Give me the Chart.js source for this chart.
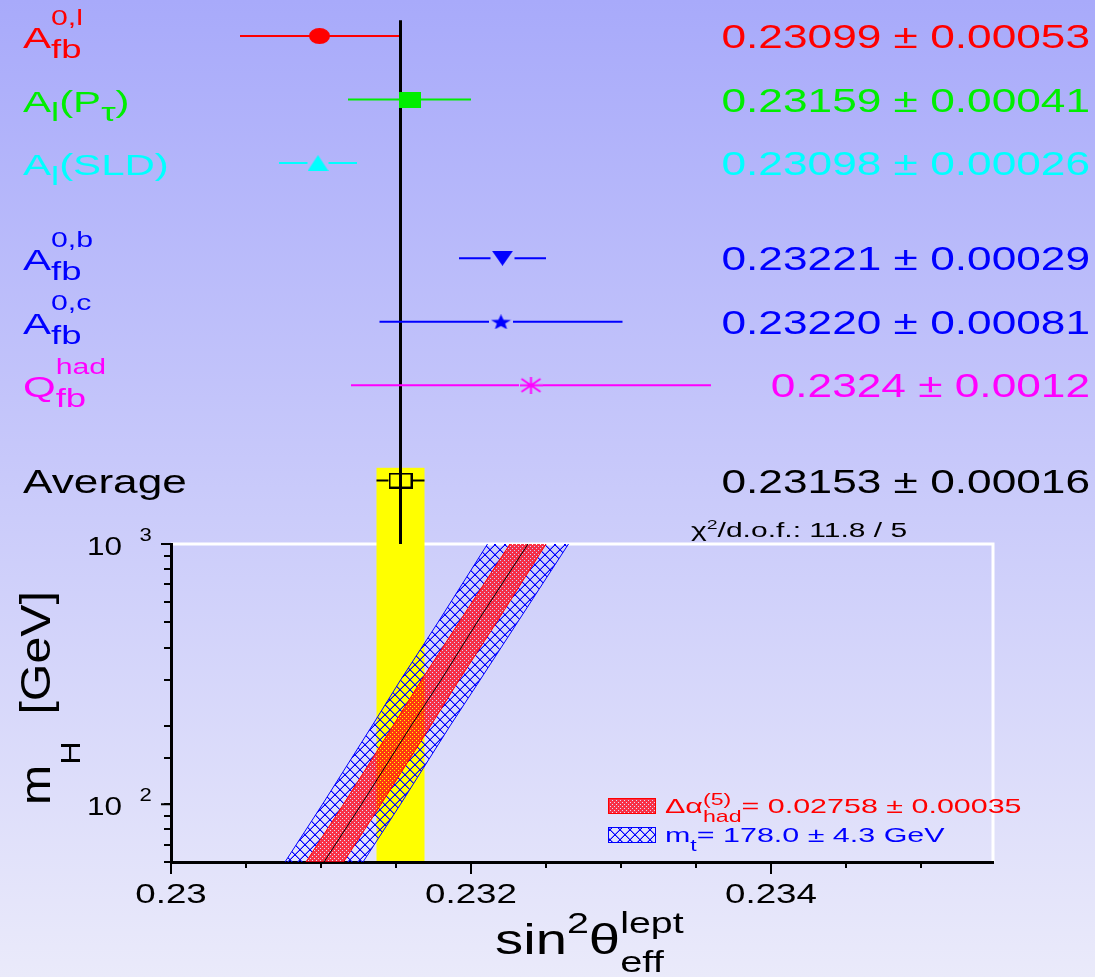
<!DOCTYPE html>
<html>
<head>
<meta charset="utf-8">
<script src="https://cdn.jsdelivr.net/npm/chart.js@4.4.1/dist/chart.umd.min.js"></script>
<style>
  html, body { margin: 0; padding: 0; }
  #wrap { width: 1095px; height: 977px; position: relative; }
</style>
</head>
<body>
<div id="wrap"><canvas id="chart"></canvas></div>
<script>
// sin2theta_eff measurements (upper part)
const measLabels = ['A_{fb}^{0,l}', 'A_{l}(P_{τ})', 'A_{l}(SLD)', 'A_{fb}^{0,b}', 'A_{fb}^{0,c}', 'Q_{fb}^{had}', 'Average'];
const measValues = [0.23099, 0.23159, 0.23098, 0.23221, 0.23220, 0.2324, 0.23153];
const measErrors = [0.00053, 0.00041, 0.00026, 0.00029, 0.00081, 0.0012, 0.00016];
const measDigits = [5, 5, 5, 5, 5, 4, 5];
const measRows = [0, 1, 2, 3.5, 4.5, 5.5, 7];
const chi2Text = 'χ^{2}/d.o.f.: 11.8 / 5';

// SM prediction vs Higgs mass (lower part)
const higgsMass = [60, 100, 200, 300, 500, 1000];
const bandCentre = [0.23102, 0.23127, 0.23160, 0.23180, 0.23204, 0.23238];
const alphaLow = [0.23090, 0.23115, 0.23148, 0.23167, 0.23192, 0.23226];
const alphaHigh = [0.23115, 0.23140, 0.23173, 0.23192, 0.23217, 0.23250];
const mtopLow = [0.23076, 0.23101, 0.23134, 0.23153, 0.23178, 0.23211];
const mtopHigh = [0.23128, 0.23153, 0.23186, 0.23206, 0.23231, 0.23265];
const legendLabels = ['Δα_{had}^{(5)}= 0.02758 ± 0.00035', 'm_{t}= 178.0 ± 4.3 GeV'];

// axes
const xTicks = [0.230, 0.232, 0.234];
const xTickLabels = ['0.23', '0.232', '0.234'];
const yTicks = [100, 1000];
const yTickLabels = ['10  ^{2}', '10  ^{3}'];

const FONT = '"Liberation Sans", Arial, sans-serif';
const AVG = measLabels.length - 1;
const measColors = ['#ff0000', '#00ee00', '#00ffff', '#0000ff', '#0000ff', '#ff00ff', '#000000'];
const measGaps = [0, 0, 0.00007, 0.00008, 0.00008, 0.00008, 0.00008];

function parseTex(s) {
  const out = [];
  let buf = '';
  for (let i = 0; i < s.length; i++) {
    const c = s[i];
    if ((c === '_' || c === '^') && s[i + 1] === '{') {
      if (buf) { out.push({t: buf, k: 'n'}); buf = ''; }
      const j = s.indexOf('}', i);
      out.push({t: s.slice(i + 2, j), k: c === '_' ? 'b' : 'p'});
      i = j;
    } else {
      buf += c;
    }
  }
  if (buf) out.push({t: buf, k: 'n'});
  return out;
}

function drawTex(ctx, s, x, y, o) {
  const sub = o.sub || [0.8, 0.3], sup = o.sup || [0.7, -0.5];
  const items = [];
  let cx = 0, prevStart = 0, prevW = 0, prevK = 'n';
  for (const p of parseTex(s)) {
    const spec = p.k === 'b' ? sub : p.k === 'p' ? sup : [1, 0];
    const size = o.size * spec[0];
    ctx.font = size + 'px ' + FONT;
    const w = ctx.measureText(p.t).width * o.sx;
    let x0 = cx;
    if (p.k !== 'n' && prevK !== 'n' && prevK !== p.k) {
      x0 = prevStart;
      cx = prevStart + Math.max(prevW, w);
    } else {
      cx = x0 + w;
    }
    items.push({t: p.t, x: x0, dy: spec[1] * o.size, size});
    prevStart = x0; prevW = w; prevK = p.k;
  }
  let left = x;
  if (o.align === 'right') left = x - cx;
  if (o.align === 'center') left = x - cx / 2;
  ctx.fillStyle = o.color;
  ctx.textAlign = 'left';
  ctx.textBaseline = 'alphabetic';
  for (const it of items) {
    ctx.save();
    ctx.font = it.size + 'px ' + FONT;
    ctx.translate(left + it.x, y + it.dy);
    ctx.scale(o.sx, 1);
    ctx.fillText(it.t, 0, 0);
    ctx.restore();
  }
}

// crisp cross-hatch, diamonds of 10 x 10 px
function hatchPattern(color, soft) {
  const c = document.createElement('canvas');
  c.width = 10; c.height = 10;
  const g = c.getContext('2d');
  for (let i = 0; i < 10; i++) {
    g.fillStyle = soft;
    g.fillRect((i + 1) % 10, i, 1, 1);
    g.fillRect((18 - i) % 10, i, 1, 1);
    g.fillStyle = color;
    g.fillRect(i, i, 1, 1);
    g.fillRect(9 - i, i, 1, 1);
  }
  return g.createPattern(c, 'repeat');
}

// dense red fill with small light dots
function densePattern(color) {
  const c = document.createElement('canvas');
  c.width = 4; c.height = 4;
  const g = c.getContext('2d');
  g.fillStyle = color;
  g.fillRect(0, 0, 4, 4);
  g.clearRect(0, 0, 1, 1);
  g.clearRect(2, 2, 1, 1);
  return g.createPattern(c, 'repeat');
}

function mk(w, h, color, fn) {
  const c = document.createElement('canvas');
  c.width = w; c.height = h;
  const g = c.getContext('2d');
  g.fillStyle = color; g.strokeStyle = color;
  fn(g, w, h);
  return c;
}

const markerImgs = [
  mk(21, 16, measColors[0], (g, w, h) => { g.beginPath(); g.ellipse(w / 2, h / 2, w / 2, h / 2, 0, 0, Math.PI * 2); g.fill(); }),
  mk(22, 16, measColors[1], (g, w, h) => g.fillRect(0, 0, w, h)),
  mk(21, 16, measColors[2], (g, w, h) => { g.beginPath(); g.moveTo(w / 2, 0); g.lineTo(w, h); g.lineTo(0, h); g.closePath(); g.fill(); }),
  mk(21, 15, measColors[3], (g, w, h) => { g.beginPath(); g.moveTo(0, 0); g.lineTo(w, 0); g.lineTo(w / 2, h); g.closePath(); g.fill(); }),
  mk(21, 15, measColors[4], (g, w, h) => {
    g.beginPath();
    for (let k = 0; k < 10; k++) {
      const r = k % 2 ? 0.42 : 1;
      const ang = -Math.PI / 2 + k * Math.PI / 5;
      const px = w / 2 + r * Math.cos(ang) * w / 2, py = h * 0.55 + r * Math.sin(ang) * h * 0.55;
      if (k) g.lineTo(px, py); else g.moveTo(px, py);
    }
    g.closePath(); g.fill();
  }),
  mk(23, 17, measColors[5], (g, w, h) => {
    g.lineWidth = 2;
    g.beginPath();
    g.moveTo(w / 2, 0); g.lineTo(w / 2, h);
    g.moveTo(2, 2); g.lineTo(w - 2, h - 2);
    g.moveTo(w - 2, 2); g.lineTo(2, h - 2);
    g.moveTo(0, h / 2); g.lineTo(w, h / 2);
    g.stroke();
  }),
  mk(24, 16, measColors[6], (g, w, h) => { g.lineWidth = 2; g.strokeRect(1, 1, w - 2, h - 2); })
];

const blueHatch = hatchPattern('#0000ff', 'rgba(0, 0, 255, 0.45)');
const redDense = densePattern('rgba(255, 0, 20, 0.78)');

const band = (vals, extra) => Object.assign({
  type: 'line', indexAxis: 'y', xAxisID: 'x', yAxisID: 'y',
  data: vals.map((v, i) => ({x: v, y: higgsMass[i]})),
  pointRadius: 0, borderWidth: 1, fill: false, order: 5
}, extra);

const datasets = [
  band(mtopLow, {borderColor: '#0000ff', backgroundColor: blueHatch, fill: '+1'}),
  band(alphaLow, {borderColor: '#ff0000', backgroundColor: redDense, fill: '+1'}),
  band(alphaHigh, {borderColor: '#ff0000', backgroundColor: blueHatch, fill: '+1'}),
  band(mtopHigh, {borderColor: '#0000ff'}),
  band(bandCentre, {borderColor: '#000000', order: 4}),
  {
    type: 'line', xAxisID: 'x', yAxisID: 'yt',
    data: [{x: measValues[AVG], y: -0.25}, {x: measValues[AVG], y: 14}],
    borderColor: '#000000', borderWidth: 3, pointRadius: 0, order: 3
  }
];

measValues.forEach((v, i) => {
  const e = measErrors[i], g = measGaps[i], r = measRows[i];
  const pts = g > 0
    ? [{x: v - e, y: r}, {x: v - g, y: r}, {x: v, y: null}, {x: v + g, y: r}, {x: v + e, y: r}]
    : [{x: v - e, y: r}, {x: v + e, y: r}];
  datasets.push({
    type: 'line', xAxisID: 'x', yAxisID: 'yt', data: pts,
    borderColor: measColors[i], borderWidth: 2, pointRadius: 0, order: 2
  });
});

datasets.push({
  type: 'line', xAxisID: 'x', yAxisID: 'yt', showLine: false,
  data: measValues.map((v, i) => ({x: v, y: measRows[i]})),
  pointStyle: markerImgs, pointRadius: 10, order: 1
});

const decor = {
  id: 'decor',
  beforeDraw(chart) {
    const {ctx, chartArea: a, scales: {x, y, yt}} = chart;
    ctx.save();
    const bg = ctx.createLinearGradient(0, 0, 0, chart.height);
    bg.addColorStop(0, 'rgb(168,170,250)');
    bg.addColorStop(1, 'rgb(234,234,250)');
    ctx.fillStyle = bg;
    ctx.fillRect(0, 0, chart.width, chart.height);
    // white frame on top and right of the lower plot
    ctx.strokeStyle = '#ffffff';
    ctx.lineWidth = 3;
    ctx.beginPath();
    ctx.moveTo(a.left, y.top); ctx.lineTo(a.right, y.top); ctx.lineTo(a.right, y.bottom);
    ctx.stroke();
    // yellow band of the average
    const xl = x.getPixelForValue(measValues[AVG] - measErrors[AVG]);
    const xr = x.getPixelForValue(measValues[AVG] + measErrors[AVG]);
    const top = yt.getPixelForValue(measRows[AVG] - 0.2);
    ctx.fillStyle = '#ffff00';
    ctx.fillRect(xl, top, xr - xl, a.bottom - top);
    ctx.restore();
  },
  afterDraw(chart) {
    const {ctx, chartArea: a, scales: {x, y, yt}} = chart;
    ctx.save();
    ctx.strokeStyle = '#000000';
    ctx.lineWidth = 2;
    xTicks.forEach(v => {
      const px = x.getPixelForValue(v);
      ctx.beginPath(); ctx.moveTo(px, a.bottom); ctx.lineTo(px, a.bottom + 12); ctx.stroke();
    });
    yTicks.forEach(v => {
      const py = y.getPixelForValue(v);
      ctx.beginPath(); ctx.moveTo(a.left, py); ctx.lineTo(a.left - 10, py); ctx.stroke();
    });
    xTicks.forEach((v, i) => drawTex(ctx, xTickLabels[i], x.getPixelForValue(v), a.bottom + 41,
      {size: 27, sx: 1.36, color: '#000000', align: 'center'}));
    yTicks.forEach((v, i) => drawTex(ctx, yTickLabels[i], 87, y.getPixelForValue(v) + 11,
      {size: 25, sx: 1.26, color: '#000000', sup: [0.7, -0.56]}));

    drawTex(ctx, 'sin^{2}θ_{eff}^{lept}', 495, 954,
      {size: 42, sx: 1.34, color: '#000000', sup: [0.7, -0.5], sub: [0.71, 0.43]});
    ctx.save();
    ctx.translate(50, 805);
    ctx.rotate(-Math.PI / 2);
    drawTex(ctx, 'm_{H}  [GeV]', 0, 0, {size: 42, sx: 1.15, color: '#000000', sub: [0.67, 0.71]});
    ctx.restore();

    measLabels.forEach((lab, i) => {
      const py = yt.getPixelForValue(measRows[i]) + 12;
      drawTex(ctx, lab, 23, py, {size: lab.includes('_') ? 30 : 33, sx: lab.includes('_') ? 1.4 : 1.34,
        color: measColors[i], sub: [0.87, 0.33], sup: [0.72, -0.78]});
      const txt = measValues[i].toFixed(measDigits[i]) + ' ± ' + measErrors[i].toFixed(measDigits[i]);
      drawTex(ctx, txt, 1090, py, {size: 33, sx: 1.34, color: measColors[i], align: 'right'});
    });
    drawTex(ctx, chi2Text, 691, y.top - 7, {size: 20, sx: 1.5, color: '#000000', sup: [0.65, -0.4]});

    // legend of the bands
    [[legendLabels[0], redDense, '#ff0000', 798], [legendLabels[1], blueHatch, '#0000ff', 827]].forEach(([lab, pat, col, top]) => {
      ctx.fillStyle = pat;
      ctx.fillRect(608, top, 47, 15);
      ctx.strokeStyle = col; ctx.lineWidth = 1;
      ctx.strokeRect(608.5, top + 0.5, 47, 15);
      drawTex(ctx, lab, 665, top + 15, {size: 21, sx: 1.45, color: col, sub: [0.76, 0.43], sup: [0.76, -0.4]});
    });
    ctx.restore();
  }
};

new Chart(document.getElementById('chart'), {
  type: 'line',
  data: {datasets},
  options: {
    responsive: true,
    maintainAspectRatio: false,
    animation: false,
    devicePixelRatio: 1,
    events: [],
    layout: {autoPadding: false, padding: {left: 0, right: 102, top: 0, bottom: 0}},
    plugins: {
      legend: {display: false},
      tooltip: {enabled: false},
      filler: {drawTime: 'beforeDatasetsDraw'}
    },
    scales: {
      x: {
        type: 'linear', position: 'bottom', min: 0.23, max: 0.23548, z: 1,
        afterFit: s => { s.height = 115; },
        border: {color: '#000000', width: 3},
        grid: {drawOnChartArea: false, drawTicks: true, tickLength: 6, color: '#000000', lineWidth: 2},
        ticks: {display: false, stepSize: 0.0005, includeBounds: false}
      },
      y: {
        type: 'logarithmic', position: 'left', stack: 'v', stackWeight: 318, min: 60, max: 1000, z: 1,
        afterFit: s => { s.width = 171; },
        border: {color: '#000000', width: 3},
        grid: {drawOnChartArea: false, drawTicks: true, tickLength: 7, color: '#000000', lineWidth: 2},
        ticks: {display: false}
      },
      yt: {
        type: 'linear', position: 'left', stack: 'v', stackWeight: 544, min: -0.567, max: 8.0, reverse: true,
        afterFit: s => { s.width = 171; },
        border: {display: false},
        grid: {display: false},
        ticks: {display: false}
      }
    }
  },
  plugins: [decor]
});
</script>
</body>
</html>
